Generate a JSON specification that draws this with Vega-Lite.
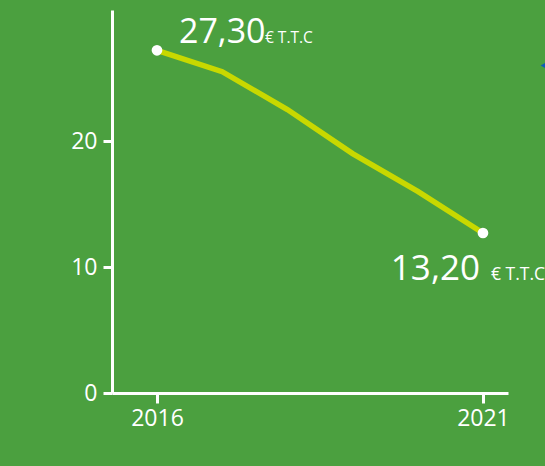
{
  "$schema": "https://vega.github.io/schema/vega-lite/v6.json",
  "width": 396,
  "height": 383,
  "autosize": {"type": "none"},
  "padding": {"left": 112, "top": 10, "right": 37, "bottom": 73},
  "background": "#4ba03f",
  "config": {
    "view": {"stroke": null},
    "font": "Open Sans",
    "axis": {
      "grid": false,
      "domainColor": "white",
      "domainWidth": 3,
      "tickColor": "white",
      "tickWidth": 3,
      "labelColor": "white",
      "labelFont": "Open Sans",
      "labelFontSize": 23,
      "title": null
    }
  },
  "data": {
    "values": [
      {"year": 2016, "price": 27.2},
      {"year": 2017, "price": 25.5},
      {"year": 2018, "price": 22.5},
      {"year": 2019, "price": 19.0},
      {"year": 2020, "price": 16.0},
      {"year": 2021, "price": 12.7}
    ]
  },
  "encoding": {
    "x": {
      "field": "year",
      "type": "quantitative",
      "scale": {"domain": [2015.31, 2021.384], "nice": false, "zero": false},
      "axis": {"values": [2016, 2021], "format": "d", "tickSize": 10, "labelPadding": 4}
    },
    "y": {
      "field": "price",
      "type": "quantitative",
      "scale": {"domain": [0, 30.4], "nice": false},
      "axis": {"values": [0, 10, 20], "tickSize": 9, "labelPadding": 6}
    }
  },
  "layer": [
    {"mark": {"type": "line", "color": "#c8d800", "strokeWidth": 5.5}, "encoding": {}},
    {
      "transform": [{"filter": "datum.year == 2016 || datum.year == 2021"}],
      "mark": {"type": "point", "filled": true, "color": "white", "opacity": 1, "size": 115},
      "encoding": {}
    },
    {
      "data": {"values": [{"year": 2016, "price": 27.2, "label": "27,30"}]},
      "mark": {"type": "text", "color": "white", "font": "Open Sans", "fontSize": 34, "align": "left", "baseline": "alphabetic", "dx": 22, "dy": -7},
      "encoding": {"text": {"field": "label"}}
    },
    {
      "data": {"values": [{"year": 2016, "price": 27.2, "label": "€ T.T.C"}]},
      "mark": {"type": "text", "color": "white", "font": "Open Sans", "fontSize": 15.5, "align": "left", "baseline": "alphabetic", "dx": 108, "dy": -7},
      "encoding": {"text": {"field": "label"}}
    },
    {
      "data": {"values": [{"year": 2021, "price": 12.7, "label": "13,20"}]},
      "mark": {"type": "text", "color": "white", "font": "Open Sans", "fontSize": 35, "align": "right", "baseline": "alphabetic", "dx": -3, "dy": 47},
      "encoding": {"text": {"field": "label"}}
    },
    {
      "data": {"values": [{"year": 2021, "price": 12.7, "label": "€ T.T.C"}]},
      "mark": {"type": "text", "color": "white", "font": "Open Sans", "fontSize": 17.5, "align": "left", "baseline": "alphabetic", "dx": 8, "dy": 47},
      "encoding": {"text": {"field": "label"}}
    },
    {
      "data": {"values": [{"year": 2022.0, "price": 26.0}]},
      "mark": {"type": "point", "shape": "triangle-left", "filled": true, "color": "#0d5db8", "opacity": 1, "size": 300},
      "encoding": {}
    }
  ]
}
